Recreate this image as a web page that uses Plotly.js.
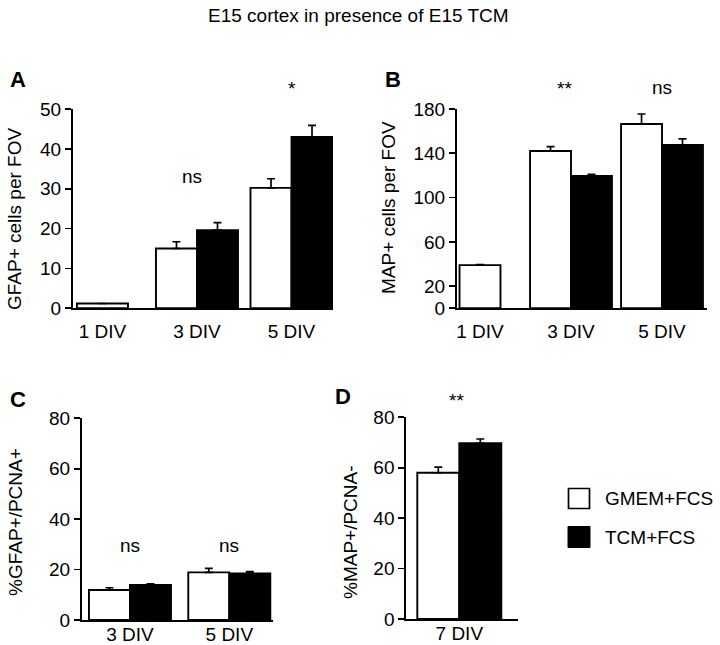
<!DOCTYPE html>
<html>
<head>
<meta charset="utf-8">
<script src="https://cdn.plot.ly/plotly-3.0.1.min.js"></script>
<style>html,body{margin:0;padding:0;background:#fff;}#chart{width:720px;height:645px;}</style>
</head>
<body>
<div id="chart"></div>
<script>
// ---- data ----
const catsAB = ['1 DIV', '3 DIV', '5 DIV'];
const gfapGmem = [1.2, 15.0, 30.2];
const gfapGmemErr = [0, 1.7, 2.3];
const gfapTcm = [null, 19.6, 43.0];
const gfapTcmErr = [0, 1.9, 2.9];

const mapGmem = [39, 142, 166.5];
const mapGmemErr = [0.5, 4, 9];
const mapTcm = [null, 119.5, 147.5];
const mapTcmErr = [0, 1.5, 5.5];

const catsC = ['3 DIV', '5 DIV'];
const pcnaGfapGmem = [11.9, 18.9];
const pcnaGfapGmemErr = [0.9, 1.6];
const pcnaGfapTcm = [13.9, 18.5];
const pcnaGfapTcmErr = [0.4, 0.7];

const catsD = ['7 DIV'];
const pcnaMapGmem = [58.0];
const pcnaMapGmemErr = [2.2];
const pcnaMapTcm = [69.7];
const pcnaMapTcmErr = [1.7];

const seriesNames = ['GMEM+FCS', 'TCM+FCS'];
const sigA = ['', 'ns', '*'];
const sigB = ['', '**', 'ns'];
const sigC = ['ns', 'ns'];
const sigD = ['**'];

// ---- helpers ----
const W = 720, H = 645;
const px = x => x / W;
const py = y => 1 - y / H;
const FONT = 'Liberation Sans, Arial, Helvetica, sans-serif';
const LW = 1.7;

function errUp(arr) { return {type: 'data', symmetric: false, array: arr, arrayminus: arr.map(() => 0), color: '#000', thickness: LW, width: 4, visible: true}; }

function pair(xa, ya, cats, g, gErr, t, tErr, w, firstSolo, w1) {
  const offW = cats.map((c, i) => (firstSolo && i === 0) ? -w1 / 2 : -w);
  const widW = cats.map((c, i) => (firstSolo && i === 0) ? w1 : w);
  return [
    {type: 'bar', x: cats, y: g, xaxis: xa, yaxis: ya, name: seriesNames[0], showlegend: false,
     offset: offW, width: widW,
     marker: {color: '#ffffff', line: {color: '#000', width: LW + 0.2}}, error_y: errUp(gErr)},
    {type: 'bar', x: cats, y: t, xaxis: xa, yaxis: ya, name: seriesNames[1], showlegend: false,
     offset: 0, width: w,
     marker: {color: '#000000', line: {color: '#000', width: LW + 0.2}}, error_y: errUp(tErr)}
  ];
}

const data = [].concat(
  pair('x', 'y', catsAB, gfapGmem, gfapGmemErr, gfapTcm, gfapTcmErr, 0.434, true, 0.54),
  pair('x2', 'y2', catsAB, mapGmem, mapGmemErr, mapTcm, mapTcmErr, 0.45, true, 0.45),
  pair('x3', 'y3', catsC, pcnaGfapGmem, pcnaGfapGmemErr, pcnaGfapTcm, pcnaGfapTcmErr, 0.413, false),
  pair('x4', 'y4', catsD, pcnaMapGmem, pcnaMapGmemErr, pcnaMapTcm, pcnaMapTcmErr, 0.42, false)
);

function xax(domain, range, anchor, standoff) {
  return {domain: domain, range: range, type: 'category', anchor: anchor, showline: true, linecolor: '#000', linewidth: LW,
    ticks: '', showgrid: false, zeroline: false, ticklabelstandoff: standoff, tickfont: {size: 19, color: '#000'}, fixedrange: true};
}
function yax(domain, range, tickvals, anchor) {
  return {domain: domain, range: range, anchor: anchor, showline: true, linecolor: '#000', linewidth: LW,
    ticks: 'outside', ticklen: 6, tickwidth: LW, tickcolor: '#000', tickvals: tickvals,
    showgrid: false, zeroline: false, tickfont: {size: 19, color: '#000'}, fixedrange: true};
}

const annotations = [];
function ann(text, x, y, opts) {
  annotations.push(Object.assign({text: text, x: px(x), y: py(y), xref: 'paper', yref: 'paper', showarrow: false,
    xanchor: 'center', yanchor: 'middle', font: {size: 19, color: '#000'}}, opts || {}));
}
// title
ann('E15 cortex in presence of E15 TCM', 358, 15);
// panel letters
const bold = {font: {size: 22, color: '#000', family: 'Liberation Sans, Arial', weight: 'bold'}};
ann('<b>A</b>', 18, 79, bold);
ann('<b>B</b>', 393, 79, bold);
ann('<b>C</b>', 18, 399, bold);
ann('<b>D</b>', 343, 396, bold);
// y axis titles
ann('GFAP+ cells per FOV', 14, 219, {textangle: -90});
ann('MAP+ cells per FOV', 388, 208, {textangle: -90});
ann('%GFAP+/PCNA+', 15, 522, {textangle: -90});
ann('%MAP+/PCNA-', 350, 532, {textangle: -90});
// significance labels (x on category axis)
function sig(labels, cats, xref, yPix, dx) {
  labels.forEach((s, i) => { if (s) annotations.push({text: s, x: cats[i], xref: xref, y: py(yPix[i]), yref: 'paper',
    xshift: dx ? dx[i] : 0, showarrow: false, xanchor: 'center', yanchor: 'middle', font: {size: 19, color: '#000'}}); });
}
sig(sigA, catsAB, 'x', [0, 177, 88], [0, -5, 0]);
sig(sigB, catsAB, 'x2', [0, 88, 87], [0, -7, 0]);
sig(sigC, catsC, 'x3', [545, 545]);
sig(sigD, catsD, 'x4', [400], [-3]);
// legend (custom)
const shapes = [
  {type: 'rect', xref: 'paper', yref: 'paper', x0: px(568.5), x1: px(589.5), y0: py(488.5), y1: py(508.5), line: {color: '#000', width: LW}, fillcolor: '#fff'},
  {type: 'rect', xref: 'paper', yref: 'paper', x0: px(568), x1: px(590), y0: py(526.5), y1: py(547.5), line: {color: '#000', width: 1}, fillcolor: '#000'}
];
ann(seriesNames[0], 603, 498, {xanchor: 'left'});
ann(seriesNames[1], 603, 537, {xanchor: 'left'});

const layout = {
  width: W, height: H, margin: {l: 0, r: 0, t: 0, b: 0}, paper_bgcolor: '#fff', plot_bgcolor: 'rgba(0,0,0,0)',
  font: {family: FONT, color: '#000', size: 19}, showlegend: false, barmode: 'overlay',
  xaxis: xax([px(72.7), px(333)], [-0.315, 2.439], 'y', 5),
  yaxis: yax([py(308.3), py(109)], [0, 50], [0, 10, 20, 30, 40, 50], 'x'),
  xaxis2: xax([px(456.7), px(706.7)], [-0.256, 2.491], 'y2', 5),
  yaxis2: yax([py(308.3), py(109)], [0, 180], [0, 20, 60, 100, 140, 180], 'x2'),
  xaxis3: xax([px(81.7), px(272.7)], [-0.486, 1.437], 'y3', -4),
  yaxis3: yax([py(620), py(418.3)], [0, 80], [0, 20, 40, 60, 80], 'x3'),
  xaxis4: xax([px(406), px(518.3)], [-0.533, 0.59], 'y4', -4),
  yaxis4: yax([py(619), py(417.3)], [0, 80], [0, 20, 40, 60, 80], 'x4'),
  annotations: annotations, shapes: shapes
};
Plotly.newPlot('chart', data, layout, {staticPlot: true, displayModeBar: false});
</script>
</body>
</html>
